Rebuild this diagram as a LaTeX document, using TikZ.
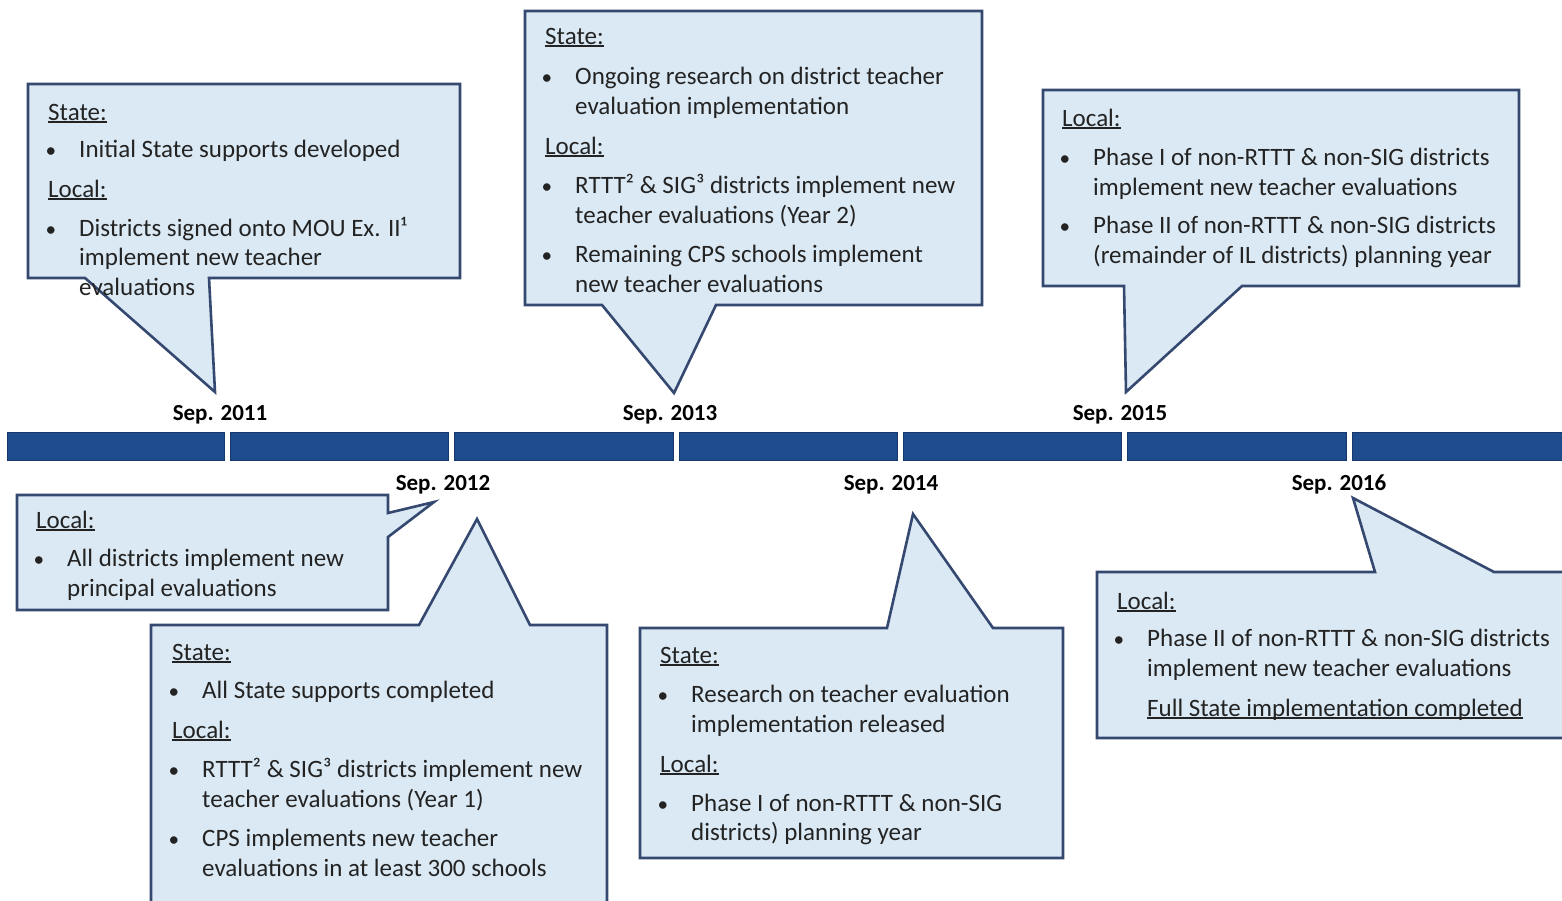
\documentclass[tikz,border=0pt]{standalone}
\usepackage{fontspec}
\setmainfont{Carlito}
\definecolor{cfill}{RGB}{218,233,244}
\definecolor{cline}{RGB}{52,72,112}
\definecolor{barblue}{RGB}{30,75,140}
\definecolor{bardark}{RGB}{22,55,108}
\definecolor{txtc}{RGB}{35,35,35}
\newcommand\bpt{\llap{\scalebox{0.85}{•}\hspace{23pt}}}
\newcommand\myul[1]{\setbox0\hbox{#1}\rlap{\rule[-2.6pt]{\wd0}{1.2pt}}\box0}
\tikzset{
  callout/.style={fill=cfill, draw=cline, line width=2.6pt, line join=miter},
  txt/.style={anchor=base west, inner sep=0pt, text=txtc, font=\fontsize{25}{30}\selectfont},
  hd/.style={txt},
  datelbl/.style={anchor=base, inner sep=0pt, text=black, font=\fontsize{23}{28}\selectfont\bfseries},
  seg/.style={fill=barblue, draw=bardark, line width=1pt}
}
\begin{document}
\begin{tikzpicture}[x=1pt,y=-1pt]
\useasboundingbox (0,0) rectangle (1562,900);
\clip (0,0) rectangle (1562,900);
\fill[white] (0,0) rectangle (1562,900);

% timeline bar
\foreach \a/\b [count=\i] in {7/224,230/448.5,454.5/673,679/897,903/1121,1127/1346,1352/1575}
  \draw[seg] (\a,432) rectangle (\b,460);

% callouts
\draw[callout] (28,84) -- (460,84) -- (460,278) -- (209,278) -- (215,392) -- (85,278) -- (28,278) -- cycle;
\draw[callout] (525,11) -- (982,11) -- (982,305) -- (716,305) -- (674,393) -- (602,305) -- (525,305) -- cycle;
\draw[callout] (1043,90) -- (1519,90) -- (1519,286) -- (1242,286) -- (1126,392) -- (1124,286) -- (1043,286) -- cycle;
\draw[callout] (17,495) -- (388,495) -- (388,513) -- (434,502) -- (388,537) -- (388,610) -- (17,610) -- cycle;
\draw[callout] (151,625) -- (419,625) -- (477,519) -- (530,625) -- (607,625) -- (607,915) -- (151,915) -- cycle;
\draw[callout] (640,628) -- (887,628) -- (913,514) -- (993,628) -- (1063,628) -- (1063,858) -- (640,858) -- cycle;
\draw[callout] (1097,572) -- (1375,572) -- (1353,498) -- (1494,572) -- (1580,572) -- (1580,738) -- (1097,738) -- cycle;

% dates
\node[datelbl] (d2011) at (220,420) {Sep. 2011};
\node[datelbl] (d2013) at (670,420) {Sep. 2013};
\node[datelbl] (d2015) at (1120,420) {Sep. 2015};
\node[datelbl] (d2012) at (443,490) {Sep. 2012};
\node[datelbl] (d2014) at (891,490) {Sep. 2014};
\node[datelbl] (d2016) at (1339,490) {Sep. 2016};

% Box A
\node[hd]  (a0) at (48,120) {\myul{State:}};
\node[txt] (a1) at (79,157) {\bpt Initial State supports developed};
\node[hd]  (a2) at (48,197) {\myul{Local:}};
\node[txt] (a3) at (79,236) {\bpt Districts signed onto MOU Ex. II¹};
\node[txt] (a4) at (79,265) {implement new teacher};
\node[txt] (a5) at (79,295) {evaluations};

% Box B
\node[hd]  (b0) at (545,44) {\myul{State:}};
\node[txt] (b1) at (575,84) {\bpt Ongoing research on district teacher};
\node[txt] (b2) at (575,114) {evaluation implementation};
\node[hd]  (b3) at (545,154) {\myul{Local:}};
\node[txt] (b4) at (575,193) {\bpt RTTT² \& SIG³ districts implement new};
\node[txt] (b5) at (575,223) {teacher evaluations (Year 2)};
\node[txt] (b6) at (575,262) {\bpt Remaining CPS schools implement};
\node[txt] (b7) at (575,292) {new teacher evaluations};

% Box C
\node[hd]  (c0) at (1062,126) {\myul{Local:}};
\node[txt] (c1) at (1093,165) {\bpt Phase I of non-RTTT \& non-SIG districts};
\node[txt] (c2) at (1093,195) {implement new teacher evaluations};
\node[txt] (c3) at (1093,233) {\bpt Phase II of non-RTTT \& non-SIG districts};
\node[txt] (c4) at (1093,263) {(remainder of IL districts) planning year};

% Box D
\node[hd]  (e0) at (36,528) {\myul{Local:}};
\node[txt] (e1) at (67,566) {\bpt All districts implement new};
\node[txt] (e2) at (67,596) {principal evaluations};

% Box E
\node[hd]  (f0) at (172,660) {\myul{State:}};
\node[txt] (f1) at (202,698) {\bpt All State supports completed};
\node[hd]  (f2) at (172,738) {\myul{Local:}};
\node[txt] (f3) at (202,777) {\bpt RTTT² \& SIG³ districts implement new};
\node[txt] (f4) at (202,807) {teacher evaluations (Year 1)};
\node[txt] (f5) at (202,846) {\bpt CPS implements new teacher};
\node[txt] (f6) at (202,876) {evaluations in at least 300 schools};

% Box F
\node[hd]  (g0) at (660,663) {\myul{State:}};
\node[txt] (g1) at (691,702) {\bpt Research on teacher evaluation};
\node[txt] (g2) at (691,732) {implementation released};
\node[hd]  (g3) at (660,772) {\myul{Local:}};
\node[txt] (g4) at (691,811) {\bpt Phase I of non-RTTT \& non-SIG};
\node[txt] (g5) at (691,840) {districts) planning year};

% Box G
\node[hd]  (h0) at (1117,609) {\myul{Local:}};
\node[txt] (h1) at (1147,646) {\bpt Phase II of non-RTTT \& non-SIG districts};
\node[txt] (h2) at (1147,676) {implement new teacher evaluations};
\node[txt] (h3) at (1147,716) {\myul{Full State implementation completed}};
\end{tikzpicture}
\end{document}
